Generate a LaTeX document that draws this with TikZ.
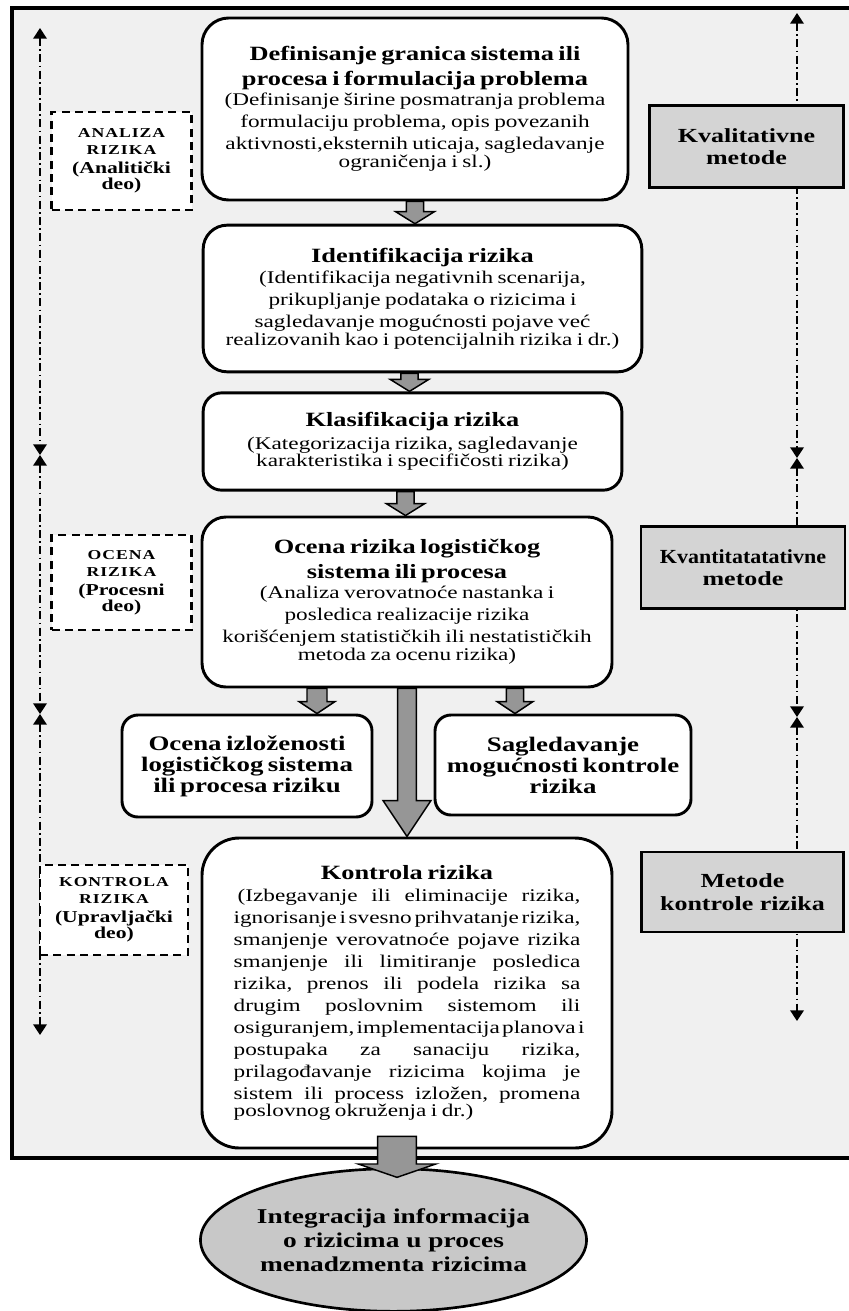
\documentclass[tikz,border=0pt]{standalone}
\usepackage{fontspec}
\setmainfont[FakeStretch=1.3]{Liberation Serif}
\newfontfamily\capsfont[FakeStretch=1.3,LetterSpace=7]{Liberation Serif}
\newfontfamily\condfont[FakeStretch=1.1]{Liberation Serif}
\usepackage{tikz}
\usetikzlibrary{positioning,arrows.meta,calc,shapes.geometric}
\definecolor{rkFrame}{RGB}{240,240,240}
\definecolor{rkArrow}{RGB}{150,150,150}
\definecolor{rkMethod}{RGB}{212,212,212}
\definecolor{rkOval}{RGB}{200,200,200}

\newcommand{\ttl}{\fontsize{15.2}{18.75}\selectfont\bfseries}
\newcommand{\bdy}{\fontsize{13.4}{16.5}\selectfont\mdseries}
\newcommand{\caps}{\capsfont\fontsize{10.2}{13}\selectfont\bfseries}
\newcommand{\sub}{\normalfont\fontsize{12.5}{14.2}\selectfont\bfseries}
\newcommand{\jline}[1]{\leavevmode\hbox to 260pt{\frenchspacing\spaceskip=0.25em plus 1fil minus 0.12em\relax #1}}
% block arrow: from, to, half shaft, half head, head length
\newcommand{\blockarrow}[5]{%
  \draw[blockarr] let \p1=(#1), \p2=(#2) in
    (\x1-#3,\y1) -- (\x1-#3,\y2+#5) -- (\x1-#4,\y2+#5) -- (\x1,\y2)
    -- (\x1+#4,\y2+#5) -- (\x1+#3,\y2+#5) -- (\x1+#3,\y1) -- cycle;}

\tikzset{
  stage/.style={draw, line width=2.2pt, fill=white, rounded corners=18pt,
    align=center, inner sep=0pt},
  part/.style={draw, line width=1.8pt, dash pattern=on 6pt off 4pt, fill=white,
    align=center, inner sep=0pt, text width=105pt},
  method/.style={draw, line width=2.2pt, fill=rkMethod, align=center,
    inner sep=0pt, font=\fontsize{15}{17}\selectfont\bfseries},
  span/.style={line width=1.8pt, dash pattern=on 6pt off 2.5pt on 1.2pt off 2.5pt,
    {Triangle[width=10pt,length=8pt]}-{Triangle[width=10pt,length=8pt]}},
  blockarr/.style={draw, line width=1.1pt, fill=rkArrow},
}

\begin{document}
\begin{tikzpicture}[x=0.75pt,y=-0.75pt]
  \useasboundingbox (0,0) rectangle (849,1311);
  \clip (0,0) rectangle (849,1311);
  \fill[white] (0,0) rectangle (849,1311);

  % frame
  \draw[line width=3pt, fill=rkFrame] (12,8) rectangle (880,1158);

  % phase spans
  \coordinate (lTop) at (40,28);
  \coordinate (lM1) at (40,455);
  \coordinate (lM2) at (40,714);
  \coordinate (lBot) at (40,1035);
  \coordinate (rTop) at (797,13);
  \coordinate (rM1) at (797,458);
  \coordinate (rM2) at (797,717);
  \coordinate (rBot) at (797,1021);
  \draw[span] (lTop) -- (lM1);
  \draw[span] (lM1) -- (lM2);
  \draw[span] (lM2) -- (lBot);
  \draw[span] (rTop) -- (rM1);
  \draw[span] (rM1) -- (rM2);
  \draw[span] (rM2) -- (rBot);

  % left: parts
  \node[part, minimum width=100pt, minimum height=73.5pt] (analiza) at (121.5,161)
    {\caps ANALIZA\\ RIZIKA\\ \sub (Analitički\\ deo)};
  \node[part, minimum width=100pt, minimum height=71pt] (ocena) at (121.5,582.5)
    {\caps OCENA\\ RIZIKA\\ \sub (Procesni\\ deo)};
  \node[part, minimum width=111pt, minimum height=67.5pt] (kontrola) at (114,910)
    {\caps KONTROLA\\ RIZIKA\\ \sub (Upravljački\\ deo)};

  % right: methods
  \node[method, minimum width=145pt, minimum height=62pt] (kval) at (746.5,146.5)
    {Kvalitativne\\ metode};
  \node[method, minimum width=153pt, minimum height=61pt] (kvant) at (743,567.5)
    {{\condfont Kvantitatatativne}\\ metode};
  \node[method, minimum width=151pt, minimum height=60pt] (metk) at (742.5,892)
    {Metode\\ kontrole rizika};

  % main stages
  \node[stage, rounded corners=20pt, minimum width=319.5pt, minimum height=136.5pt,
    text width=316pt] (def) at (415,109)
    {\ttl Definisanje granica sistema ili\\[0pt] procesa i formulacija problema\\[-1.5pt]
     \bdy (Definisanje širine posmatranja problema\\ formulaciju problema, opis povezanih\\
     aktivnosti,eksternih uticaja, sagledavanje\\ ograničenja i sl.)};
  \node[stage, minimum width=329pt, minimum height=110pt, text width=325pt] (ident) at (422.5,298.5)
    {\ttl Identifikacija rizika\\[-0.5pt]
     \bdy (Identifikacija negativnih scenarija,\\ prikupljanje podataka o rizicima i\\
     sagledavanje mogućnosti pojave već\\ realizovanih kao i potencijalnih rizika i dr.)};
  \node[stage, rounded corners=14pt, minimum width=314pt, minimum height=73pt, text width=310pt] (klas) at (412.5,441.5)
    {\ttl Klasifikacija rizika\\[0.5pt]
     \bdy (Kategorizacija rizika, sagledavanje\\ karakteristika i specifičosti rizika)};
  \node[stage, minimum width=307.5pt, minimum height=127.5pt, text width=304pt] (ocrz) at (407,602)
    {\ttl Ocena rizika logističkog\\[0pt] sistema ili procesa\\[-1.5pt]
     \bdy (Analiza verovatnoće nastanka i\\ posledica realizacije rizika\\
     korišćenjem statističkih ili nestatističkih\\ metoda za ocenu rizika)};
  \node[stage, rounded corners=12pt, minimum width=187.5pt, minimum height=76.5pt, text width=184pt] (izlo) at (247,766)
    {\fontsize{15.5}{16.3}\selectfont\bfseries Ocena izloženosti\\ logističkog sistema\\ ili procesa riziku};
  \node[stage, rounded corners=12pt, minimum width=192pt, minimum height=75pt, text width=188pt] (sagl) at (563,765)
    {\fontsize{15.5}{16.3}\selectfont\bfseries Sagledavanje\\ mogućnosti kontrole\\ rizika};
  \node[stage, rounded corners=28pt, minimum width=307.5pt, minimum height=232.5pt, text width=300pt] (kont) at (407,993)
    {\ttl Kontrola rizika\\[0pt]
     \bdy\jline{\hspace{3pt}(Izbegavanje ili eliminacije rizika,}\\
     \jline{ignorisanje i svesno prihvatanje rizika,}\\
     \jline{smanjenje verovatnoće pojave rizika}\\
     \jline{smanjenje ili limitiranje posledica}\\
     \jline{rizika, prenos ili podela rizika sa}\\
     \jline{drugim poslovnim sistemom ili}\\
     \jline{osiguranjem, implementacija planova i}\\
     \jline{postupaka za sanaciju rizika,}\\
     \jline{prilagođavanje rizicima kojima je}\\
     \jline{sistem ili process izložen, promena}\\
     \makebox[260pt][l]{poslovnog okruženja i dr.)}};

  % result
  \node[ellipse, draw, line width=2pt, fill=rkOval, minimum width=287pt, minimum height=107pt,
    inner sep=0pt, align=center, font=\fontsize{15.8}{18}\selectfont\bfseries] (integ) at (393.5,1240)
    {Integracija informacija\\ o rizicima u proces\\ menadzmenta rizicima};

  % flow arrows
  \blockarrow{def.south}{ident.north}{6.5pt}{14.5pt}{9pt}
  \blockarrow{$(ident.south)+(-13,0)$}{klas.north}{6.5pt}{14.5pt}{9pt}
  \blockarrow{$(klas.south)+(-7,0)$}{ocrz.north}{6.5pt}{14.5pt}{9pt}
  \blockarrow{$(ocrz.south)+(-90,0)$}{izlo.north}{7.5pt}{13.5pt}{9pt}
  \blockarrow{$(ocrz.south)+(108,0)$}{sagl.north}{6.5pt}{13.5pt}{9pt}
  \blockarrow{ocrz.south}{kont.north}{7pt}{18pt}{27pt}
  \blockarrow{$(kont.south)+(-10,-13)$}{$(integ.north)+(0,10)$}{14.5pt}{29pt}{10pt}
\end{tikzpicture}
\end{document}
